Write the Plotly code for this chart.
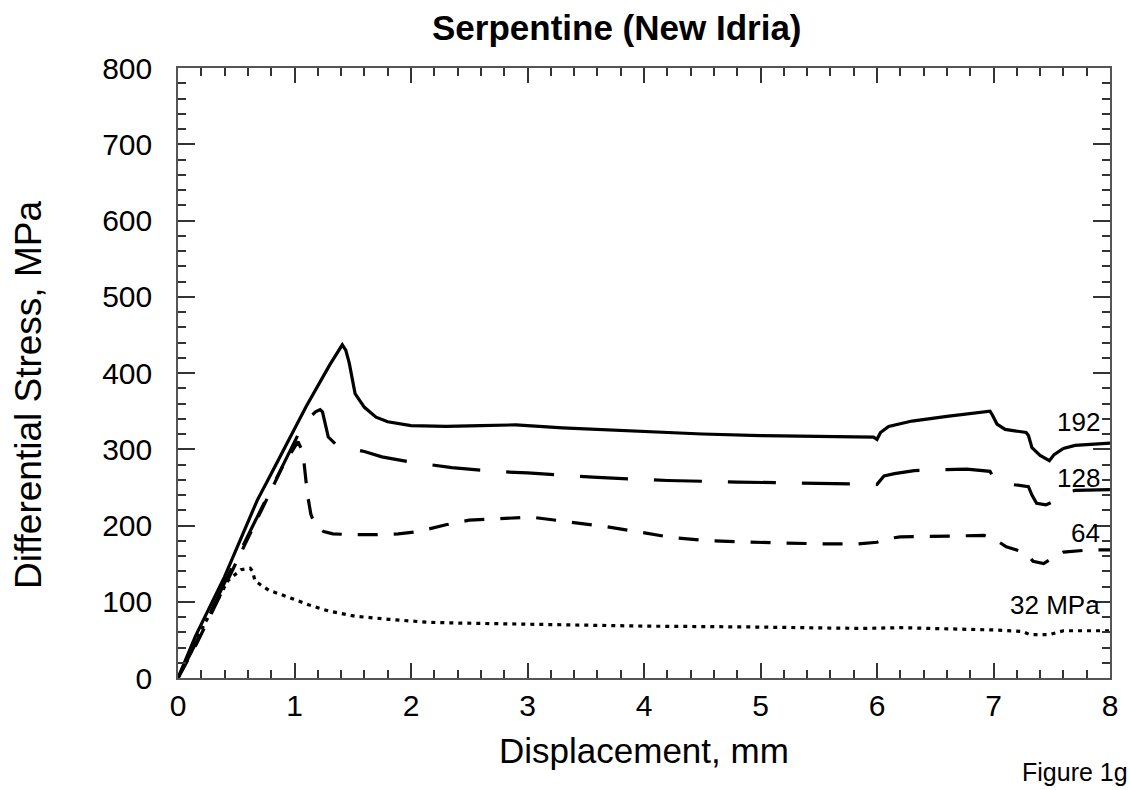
import plotly.graph_objects as go

# 192 MPa confining pressure (solid)
x192 = [0, 0.15, 0.4, 0.68, 0.8, 1.1, 1.3, 1.41, 1.44, 1.47, 1.52, 1.6, 1.7, 1.8, 2.0, 2.3, 2.6, 2.9, 3.3, 3.7,
        4.0, 4.5, 5.0, 5.5, 5.97, 6.0, 6.03, 6.1, 6.3, 6.6, 6.97, 6.99, 7.03, 7.1, 7.28, 7.3, 7.33, 7.4, 7.48, 7.52,
        7.6, 7.7, 7.85, 8.0]
y192 = [0, 55, 133, 233, 268, 356, 410, 437, 430, 413, 373, 355, 342, 336, 331, 330, 331, 332, 328, 325,
        323, 320, 318, 317, 316, 313, 322, 330, 337, 343, 350, 345, 333, 326, 322, 318, 302, 292, 285, 293,
        301, 305, 307, 308]

# 128 MPa (long dash)
x128 = [0, 0.15, 0.4, 0.7, 0.9, 1.05, 1.12, 1.18, 1.22, 1.24, 1.26, 1.29, 1.35, 1.45, 1.6, 1.75, 2.0, 2.35, 2.7, 3.0,
        3.6, 4.2, 4.8, 5.4, 5.97, 6.0, 6.06, 6.15, 6.32, 6.77, 6.97, 7.0, 7.05, 7.15, 7.3, 7.33, 7.37, 7.45, 7.52, 7.58,
        7.7, 7.85, 8.0]
y128 = [0, 45, 125, 218, 280, 325, 340, 349, 352, 349, 336, 316, 307, 302, 297, 290, 283, 276, 271, 269,
        263, 259, 257, 255, 254, 254, 265, 268, 272, 274, 271, 263, 257, 254, 251, 240, 229, 227, 232, 242,
        246, 247, 247]

# 64 MPa (medium dash)
x64 = [0, 0.15, 0.4, 0.7, 0.9, 1.03, 1.06, 1.08, 1.11, 1.14, 1.17, 1.21, 1.25, 1.33, 1.5, 1.7, 1.89, 2.06, 2.3, 2.5,
       2.71, 3.03, 3.34, 3.65, 3.94, 4.25, 4.56, 4.87, 5.18, 5.52, 5.84, 6.0, 6.1, 6.2, 6.5, 6.92, 7.0, 7.11, 7.28, 7.34,
       7.43, 7.51, 7.6, 7.82, 8.0]
y64 = [0, 42, 120, 215, 278, 310, 300, 285, 242, 215, 203, 196, 192, 189, 188, 188, 189, 192, 201, 207,
       209, 211, 205, 199, 192, 184, 180, 178, 177, 176, 176, 178, 183, 185, 186, 187, 183, 172, 164, 153,
       150, 158, 165, 168, 168]

# 32 MPa (dotted)
x32 = [0, 0.1, 0.2, 0.34, 0.43, 0.54, 0.62, 0.64, 0.66, 0.71, 0.78, 0.93, 1.12, 1.29, 1.52, 1.81, 2.15, 2.43, 3.17, 4.02,
       4.87, 5.87, 6.2, 7.0, 7.25, 7.31, 7.48, 7.55, 7.6, 8.0]
y32 = [0, 30, 63, 102, 128, 142, 144, 140, 128, 122, 115, 107, 96, 88, 81, 77, 73, 72, 70, 68,
       67, 65, 66, 63, 61, 57, 57, 60, 62, 62]

labels = ["192", "128", "64", "32 MPa"]
label_x = [7.93, 7.93, 7.93, 7.93]
label_y = [336, 262, 190, 96]

xticks = [0, 1, 2, 3, 4, 5, 6, 7, 8]
yticks = [0, 100, 200, 300, 400, 500, 600, 700, 800]

FONT = "Liberation Sans, Arial, Helvetica, sans-serif"

fig = go.Figure()
series = [
    (x192, y192, "solid"),
    (x128, y128, "48px,26px"),
    (x64, y64, "20px,16px"),
    (x32, y32, "4px,5px"),
]
for xs, ys, dash in series:
    fig.add_trace(go.Scatter(x=xs, y=ys, mode="lines",
                             line=dict(color="black", width=3.2, dash=dash),
                             showlegend=False, hoverinfo="skip"))

for t, lx, ly in zip(labels, label_x, label_y):
    fig.add_annotation(x=lx, y=ly, xref="x", yref="y", text=t, showarrow=False,
                       xanchor="right", yanchor="middle",
                       font=dict(family=FONT, size=26, color="black"))

# title
fig.add_annotation(x=0.4707, y=1.0, xref="paper", yref="paper", yshift=41,
                   text="<b>Serpentine (New Idria)</b>", showarrow=False,
                   xanchor="center", yanchor="middle",
                   font=dict(family=FONT, size=35, color="black"))
# axis titles
fig.add_annotation(x=0.5, y=0, xref="paper", yref="paper", yshift=-72,
                   text="Displacement, mm", showarrow=False,
                   xanchor="center", yanchor="middle",
                   font=dict(family=FONT, size=35, color="black"))
fig.add_annotation(x=0, y=0.5, xref="paper", yref="paper", xshift=-150, yshift=-22,
                   text="Differential Stress, MPa", showarrow=False, textangle=-90,
                   xanchor="center", yanchor="middle",
                   font=dict(family=FONT, size=37, color="black"))
fig.add_annotation(x=1.0, y=0, xref="paper", yref="paper", yshift=-94, xshift=20,
                   text="Figure 1g", showarrow=False, xanchor="right", yanchor="middle",
                   font=dict(family=FONT, size=25, color="black"))

axis_common = dict(showgrid=False, zeroline=False, showline=True, linecolor="#555",
                   linewidth=1.5, mirror="allticks", ticks="inside", tickcolor="#333",
                   tickwidth=1.5, tickfont=dict(family=FONT, size=30, color="black"))

fig.update_xaxes(range=[0, 8], tickvals=xticks, ticklen=15, ticklabelstandoff=0,
                 minor=dict(dtick=0.2, ticklen=8, ticks="inside", tickcolor="#333", tickwidth=1.5),
                 **axis_common)
fig.update_yaxes(range=[0, 800], tickvals=yticks, ticklen=17, ticklabelstandoff=18,
                 minor=dict(dtick=20, ticklen=8, ticks="inside", tickcolor="#333", tickwidth=1.5),
                 **axis_common)

fig.update_layout(width=1130, height=790, margin=dict(l=178, r=13, t=68, b=112),
                  plot_bgcolor="white", paper_bgcolor="white")

fig.write_html("out.html")
